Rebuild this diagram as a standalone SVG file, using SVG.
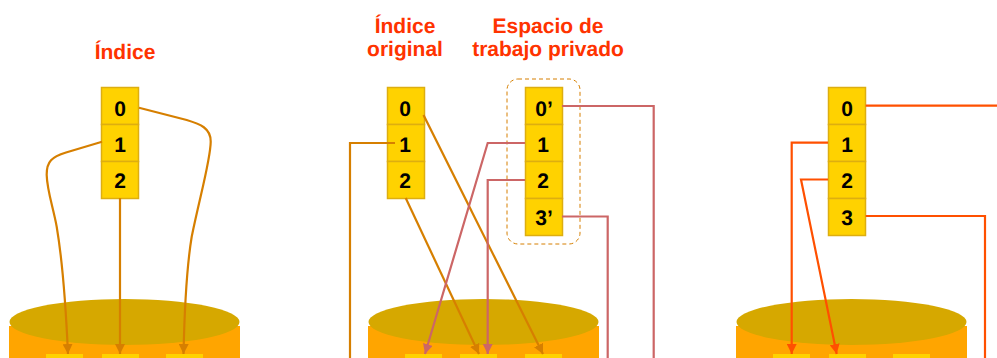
<svg xmlns="http://www.w3.org/2000/svg" width="997" height="358" viewBox="0 0 997 358">
<style>
text{text-rendering:geometricPrecision}
.t{font-family:"Liberation Sans",Arial,sans-serif;font-weight:bold;font-size:21px;fill:#FF3300;text-anchor:middle}
.n{font-family:"Liberation Sans",Arial,sans-serif;font-weight:bold;font-size:21px;fill:#000;text-anchor:middle}
.c{fill:#FFD200;stroke:#DDAE10;stroke-width:1.5}
.body{fill:#FFA500}
.top{fill:#D6A800}
.blk{fill:#FFD200}
.l{fill:none;stroke-width:2.2}
.o{stroke:#D67F00}.p{stroke:#CC6666}.r{stroke:#FF5000}
</style>
<defs>
<marker id="ao" markerUnits="userSpaceOnUse" markerWidth="10" markerHeight="10" refX="10" refY="5" orient="auto"><path d="M0 0L10 5L0 10Z" fill="#D67F00"/></marker>
<marker id="ap" markerUnits="userSpaceOnUse" markerWidth="10" markerHeight="10" refX="10" refY="5" orient="auto"><path d="M0 0L10 5L0 10Z" fill="#CC6666"/></marker>
<marker id="ar" markerUnits="userSpaceOnUse" markerWidth="10" markerHeight="10" refX="10" refY="5" orient="auto"><path d="M0 0L10 5L0 10Z" fill="#FF5000"/></marker>
</defs>

<g id="titles">
<text class="t" x="125" y="59">Índice</text>
<text class="t" x="405" y="32.500">Índice</text>
<text class="t" x="405" y="56">original</text>
<text class="t" x="548" y="32.500">Espacio de</text>
<text class="t" x="548" y="56">trabajo privado</text>
</g>

<g id="disk1">
<rect class="body" x="9" y="326" width="231" height="32"/>
<ellipse class="top" cx="124.500" cy="322" rx="115" ry="23"/>
<rect class="blk" x="46" y="354" width="37" height="4"/>
<rect class="blk" x="102" y="354" width="37" height="4"/>
<rect class="blk" x="166" y="354" width="37" height="4"/>
</g>
<g id="disk2">
<rect class="body" x="368" y="326" width="231" height="32"/>
<ellipse class="top" cx="483.500" cy="322" rx="115" ry="23"/>
<rect class="blk" x="405" y="354" width="37" height="4"/>
<rect class="blk" x="460" y="354" width="37" height="4"/>
<rect class="blk" x="525" y="354" width="37" height="4"/>
</g>
<g id="disk3">
<rect class="body" x="736" y="326" width="231" height="32"/>
<ellipse class="top" cx="851.500" cy="322" rx="115" ry="23"/>
<rect class="blk" x="773" y="354" width="37" height="4"/>
<rect class="blk" x="829" y="354" width="37" height="4"/>
<rect class="blk" x="893" y="354" width="37" height="4"/>
</g>

<g id="table1">
<rect class="c" x="101.500" y="87.500" width="37" height="37"/><rect class="c" x="101.500" y="124.500" width="37" height="37"/><rect class="c" x="101.500" y="161.500" width="37" height="37"/>
<text class="n" x="120" y="115.500">0</text><text class="n" x="120" y="152">1</text><text class="n" x="120" y="188">2</text>
</g>
<g id="table2">
<rect class="c" x="387.500" y="87.500" width="37" height="37"/><rect class="c" x="387.500" y="124.500" width="37" height="37"/><rect class="c" x="387.500" y="161.500" width="37" height="37"/>
<text class="n" x="405" y="115.500">0</text><text class="n" x="405" y="152">1</text><text class="n" x="405" y="188">2</text>
</g>
<g id="workspace">
<rect x="507" y="79" width="73" height="165" rx="11" fill="none" stroke="#D67F00" stroke-width="1" stroke-dasharray="4 3"/>
<rect class="c" x="525.500" y="87.500" width="37" height="37"/><rect class="c" x="525.500" y="124.500" width="37" height="37"/><rect class="c" x="525.500" y="161.500" width="37" height="37"/><rect class="c" x="525.500" y="198.500" width="37" height="37"/>
<text class="n" x="544" y="115.500">0’</text><text class="n" x="543" y="152">1</text><text class="n" x="543" y="188">2</text><text class="n" x="544" y="225">3’</text>
</g>
<g id="table3">
<rect class="c" x="828.500" y="87.500" width="37" height="37"/><rect class="c" x="828.500" y="124.500" width="37" height="37"/><rect class="c" x="828.500" y="161.500" width="37" height="37"/><rect class="c" x="828.500" y="198.500" width="37" height="37"/>
<text class="n" x="847" y="115.500">0</text><text class="n" x="847" y="152">1</text><text class="n" x="847" y="188">2</text><text class="n" x="847" y="225">3</text>
</g>

<g id="connectors">
<path class="l o" marker-end="url(#ao)" d="M139 107.700L186.700 120C200 124 211 128 210.700 142C210.500 160 200 196 191.700 236.700C187 265 184.500 310 183.500 354"/>
<path class="l o" marker-end="url(#ao)" d="M102 141.700L66 152.500C52 157 46.500 161 46.700 175C47 190 53 207 56.700 226.700C62 258 66 310 68 354"/>
<path class="l o" marker-end="url(#ao)" d="M120 198V354"/>
<path class="l o" d="M395 143H350V358"/>
<path class="l o" marker-end="url(#ao)" d="M423.500 115L543 354"/>
<path class="l o" marker-end="url(#ao)" d="M405.700 198L479 354"/>
<path class="l p" d="M562 106H653.700V358"/>
<path class="l p" marker-end="url(#ap)" d="M525 143H487.700L425 354"/>
<path class="l p" marker-end="url(#ap)" d="M525 180H487.700V354"/>
<path class="l p" d="M562 216.500H607.700V358"/>
<path class="l r" d="M865.700 105.700H997"/>
<path class="l r" marker-end="url(#ar)" d="M828 142.700H791.700V354"/>
<path class="l r" marker-end="url(#ar)" d="M828 179.500H801L836.700 354"/>
<path class="l r" d="M865.700 216H985V358"/>
</g>
</svg>
